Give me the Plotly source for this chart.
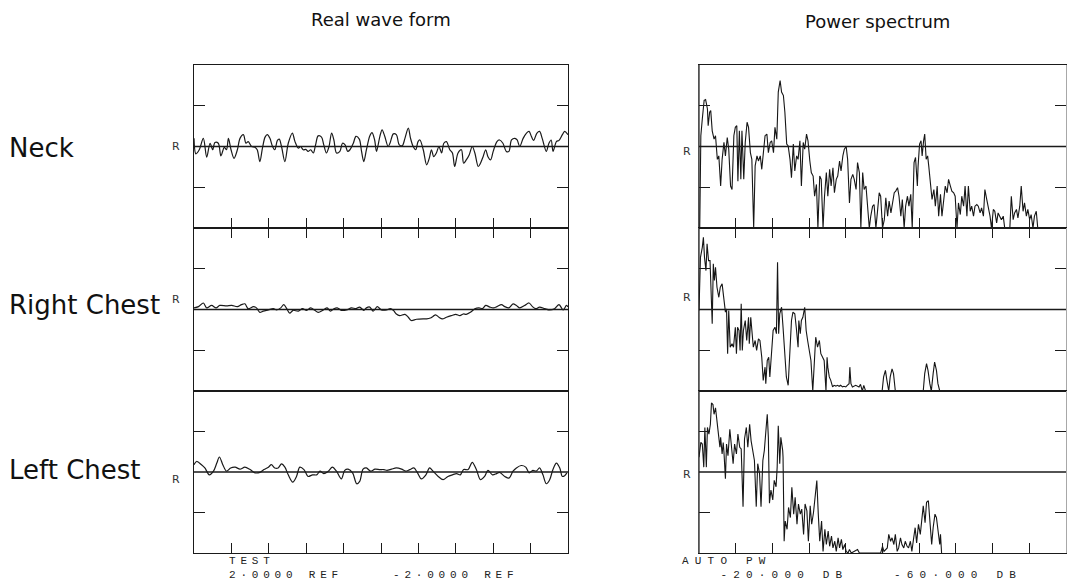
import plotly.graph_objects as go

# ---------------- data ----------------
# Real wave form: time in divisions (0-10), amplitude in units (-2..2, REF at 0)
neck_t = [0.00,0.05,0.14,0.25,0.34,0.43,0.50,0.56,0.65,0.72,0.81,0.87,0.92,0.99,1.07,1.16,1.23,1.32,1.39,1.45,
          1.54,1.63,1.69,1.76,1.83,1.90,1.96,2.03,2.10,2.16,2.23,2.28,2.34,2.43,2.52,2.63,2.70,2.79,2.85,2.92,
          2.99,3.05,3.12,3.19,3.25,3.32,3.41,3.47,3.54,3.61,3.68,3.74,3.81,3.90,3.97,4.04,4.11,4.17,4.26,4.33,
          4.42,4.48,4.54,4.61,4.70,4.76,4.83,4.88,4.97,5.03,5.10,5.19,5.24,5.33,5.41,5.49,5.57,5.64,5.73,5.79,
          5.86,5.93,5.99,6.04,6.13,6.22,6.29,6.35,6.41,6.48,6.55,6.62,6.68,6.75,6.84,6.91,6.97,7.06,7.15,7.21,
          7.28,7.36,7.44,7.51,7.60,7.66,7.73,7.80,7.86,7.93,8.00,8.10,8.17,8.26,8.35,8.42,8.49,8.58,8.64,8.71,
          8.80,8.89,8.96,9.02,9.08,9.17,9.24,9.31,9.42,9.49,9.55,9.60,9.69,9.76,9.85,9.91,10.00]
neck_v = [0.20,-0.18,-0.08,0.20,-0.26,0.08,-0.08,0.10,0.08,-0.23,-0.02,-0.08,0.20,-0.08,-0.29,-0.08,0.20,0.29,0.08,0.12,
          0.00,-0.02,-0.08,-0.37,-0.04,0.23,0.29,0.20,0.00,-0.08,0.15,0.18,0.00,-0.37,0.08,0.33,0.12,-0.04,0.00,-0.08,
          -0.07,-0.12,-0.08,-0.16,0.04,0.26,0.23,0.04,-0.16,0.00,0.33,0.16,-0.16,-0.12,0.08,0.04,-0.12,-0.08,0.08,0.25,
          0.18,-0.12,-0.37,-0.08,0.26,0.34,0.16,-0.12,0.25,0.41,0.25,0.00,0.08,0.31,0.29,0.04,0.02,0.20,0.45,0.20,
          0.00,-0.08,0.12,0.16,-0.08,-0.45,-0.29,-0.08,-0.25,-0.16,0.00,-0.16,0.08,0.12,-0.08,-0.16,-0.49,-0.16,-0.08,-0.41,
          -0.33,-0.20,0.00,-0.16,-0.49,-0.41,-0.25,-0.08,-0.25,-0.33,-0.12,0.12,0.16,0.08,-0.12,-0.12,0.16,0.20,0.16,0.00,
          0.20,0.33,0.37,0.25,0.15,0.33,0.37,0.20,-0.12,0.08,0.16,-0.12,0.12,0.15,0.29,0.37,0.29]

rchest_t = [0.00,0.12,0.25,0.34,0.47,0.59,0.69,0.87,1.01,1.16,1.27,1.36,1.45,1.59,1.67,1.76,1.85,1.99,2.12,2.21,
            2.32,2.40,2.48,2.56,2.65,2.79,2.90,3.01,3.12,3.23,3.32,3.46,3.56,3.65,3.74,3.83,3.94,4.08,4.21,4.33,
            4.43,4.54,4.61,4.70,4.79,4.90,5.01,5.15,5.25,5.33,5.41,5.50,5.64,5.73,5.81,5.95,6.13,6.22,6.32,6.39,
            6.46,6.55,6.64,6.75,6.88,7.00,7.11,7.20,7.28,7.39,7.51,7.62,7.71,7.80,7.91,8.00,8.10,8.22,8.31,8.42,
            8.53,8.62,8.71,8.84,8.96,9.05,9.14,9.24,9.38,9.51,9.64,9.76,9.87,9.96,10.00]
rchest_v = [0.04,0.07,0.16,0.04,0.10,0.04,0.10,0.09,0.10,0.07,0.12,0.14,0.02,0.07,0.04,-0.07,-0.04,-0.01,0.02,-0.01,
            0.04,0.12,0.02,-0.09,-0.02,-0.04,0.02,-0.02,0.04,-0.02,-0.07,-0.01,0.04,-0.04,0.02,0.04,-0.02,-0.01,0.04,0.02,
            0.06,-0.02,0.04,0.06,-0.04,0.07,-0.01,-0.01,0.02,-0.02,-0.11,-0.15,-0.12,-0.19,-0.27,-0.24,-0.23,-0.23,-0.21,-0.17,
            -0.13,-0.19,-0.23,-0.19,-0.15,-0.12,-0.15,-0.11,-0.12,-0.07,0.02,0.04,0.02,0.10,0.06,0.04,0.07,0.12,0.07,0.04,
            0.14,0.10,0.04,0.10,0.16,0.07,0.02,0.06,0.02,-0.01,0.02,0.12,-0.01,0.10,0.06]

lchest_t = [0.00,0.07,0.20,0.29,0.41,0.52,0.61,0.68,0.77,0.87,0.98,1.10,1.23,1.36,1.50,1.63,1.76,1.87,1.99,2.07,
            2.16,2.25,2.34,2.43,2.52,2.64,2.74,2.83,2.94,3.05,3.17,3.28,3.37,3.47,3.59,3.70,3.81,3.94,4.03,4.12,
            4.24,4.35,4.43,4.52,4.61,4.72,4.84,4.97,5.08,5.16,5.28,5.41,5.55,5.66,5.77,5.88,5.97,6.08,6.20,6.30,
            6.39,6.53,6.66,6.79,6.91,7.02,7.12,7.21,7.33,7.44,7.55,7.66,7.77,7.86,7.98,8.09,8.17,8.31,8.42,8.53,
            8.62,8.75,8.87,8.96,9.06,9.15,9.24,9.33,9.42,9.51,9.60,9.69,9.78,9.85,9.91,9.97]
lchest_v = [0.18,0.26,0.18,0.10,-0.07,0.02,0.22,0.37,0.18,0.02,0.10,0.12,0.07,0.12,0.06,-0.02,-0.01,0.06,0.12,0.18,
            0.10,0.10,0.20,0.12,-0.07,-0.25,-0.11,0.12,0.06,-0.11,-0.07,-0.07,0.02,-0.04,0.02,0.12,0.02,-0.17,0.04,0.07,
            -0.02,-0.29,-0.23,0.07,0.10,0.02,0.07,0.06,0.06,0.04,0.07,0.10,0.07,0.02,0.06,0.10,-0.01,-0.17,-0.07,0.10,
            0.02,-0.11,-0.19,-0.11,-0.07,-0.04,-0.07,0.06,0.06,0.24,0.06,-0.19,-0.11,0.04,-0.07,-0.04,-0.01,-0.11,-0.15,0.02,
            0.10,0.16,0.12,-0.02,0.04,0.02,0.10,-0.07,-0.29,-0.19,0.07,0.22,0.10,-0.11,-0.09,-0.02]

# Power spectrum: frequency in divisions (0-10), level in dB (REF -20 dB, 20 dB/div, floor -60 dB)
neck_f = [0.02,0.05,0.09,0.14,0.18,0.23,0.25,0.29,0.32,0.36,0.41,0.45,0.50,0.54,0.59,0.63,0.68,0.72,0.77,0.81,
          0.86,0.90,0.95,0.99,1.03,1.06,1.10,1.14,1.17,1.22,1.26,1.31,1.35,1.40,1.44,1.49,1.53,1.58,1.62,1.67,
          1.71,1.76,1.80,1.85,1.89,1.94,1.98,2.03,2.07,2.12,2.16,2.21,2.25,2.30,2.34,2.39,2.43,2.48,2.52,2.57,
          2.61,2.66,2.70,2.75,2.79,2.84,2.88,2.93,2.97,3.02,3.06,3.11,3.15,3.20,3.24,3.29,3.33,3.38,3.42,3.47,
          3.51,3.56,3.60,3.65,3.69,3.74,3.78,3.83,3.87,3.92,3.96,4.01,4.05,4.10,4.14,4.19,4.23,4.28,4.32,4.37,
          4.41,4.46,4.50,4.55,4.59,4.64,4.68,4.73,4.77,4.82,4.86,4.91,4.95,5.00,
          5.05,5.09,5.14,5.18,5.23,5.27,5.32,5.36,5.41,5.45,5.50,5.54,5.59,5.63,5.68,5.72,5.77,5.81,5.86,5.90,
          5.95,5.97,6.01,6.05,6.08,6.12,6.15,6.19,6.23,6.26,6.31,6.35,6.40,6.44,6.49,6.53,6.58,6.62,6.67,6.71,
          6.76,6.80,6.85,6.89,6.94,6.98,7.03,7.07,7.12,7.16,7.21,7.25,7.30,7.34,7.39,7.43,7.48,7.52,7.57,7.61,
          7.66,7.70,7.75,7.79,7.84,7.88,7.93,7.97,8.02,8.06,8.11,8.15,8.20,8.24,8.29,8.33,8.47,8.51,8.56,8.60,
          8.65,8.69,8.74,8.78,8.83,8.87,8.92,8.96,9.01,9.05,9.10,9.14,9.19,9.23]
neck_db = [-60,-14.7,-6.5,2.6,3.0,-1.6,-9.8,-3.2,-2.4,-12.3,-16.4,-14.7,-26.3,-24.6,-39.4,-26.3,-18.0,-24.6,-15.6,-21.3,
           -39.4,-41.1,-14.7,-10.6,-9.8,-37.0,-12.3,-36.1,-12.3,-36.1,-18.0,-8.1,-10.6,-23.0,-26.3,-60,-29.5,-24.6,-27.1,-24.6,
           -31.2,-21.3,-14.7,-13.9,-23.0,-18.0,-17.2,-23.0,-10.6,-16.4,6.7,12.4,6.7,5.0,-3.2,-18.8,-19.7,-26.3,-35.3,-18.8,
           -32.0,-24.6,-26.3,-17.2,-39.4,-18.0,-21.3,-13.9,-17.2,-27.1,-32.8,-34.5,-44.4,-38.6,-60,-34.5,-36.1,-60,-44.4,-32.8,
           -44.4,-31.2,-39.4,-30.4,-42.7,-36.1,-34.5,-27.1,-32.0,-24.6,-21.3,-20.0,-26.3,-47.7,-36.1,-33.7,-36.1,-41.1,-27.9,-32.8,
           -60,-32.8,-41.1,-39.4,-49.3,-60,-54.2,-49.3,-48.5,-60,-52.6,-42.7,-44.4,-60,
           -55.9,-45.2,-54.2,-46.8,-52.6,-47.7,-42.7,-41.9,-40.2,-44.4,-54.2,-46.0,-60,-49.3,-44.4,-49.3,-43.5,-60,-27.9,-25.4,
           -39.4,-29.5,-18.8,-17.2,-24.6,-17.2,-13.9,-26.3,-24.6,-29.5,-37.0,-46.0,-41.1,-49.3,-39.4,-54.2,-43.5,-54.2,-46.0,-39.4,
           -42.7,-36.1,-39.4,-41.9,-42.7,-44.4,-60,-47.7,-53.4,-44.4,-49.3,-39.4,-54.2,-39.4,-51.8,-49.3,-54.2,-49.3,-48.5,-49.3,
           -52.6,-50.1,-54.2,-41.1,-46.0,-49.3,-54.2,-60,-50.9,-51.8,-57.5,-52.6,-54.2,-55.9,-54.2,-60,-60,-44.4,-55.9,-52.6,
           -50.9,-55.1,-49.3,-39.4,-51.8,-47.7,-54.2,-50.9,-55.9,-53.4,-60,-54.2,-51.8,-60]

rchest_f = [0.00,0.04,0.09,0.12,0.15,0.19,0.22,0.26,0.30,0.33,0.36,0.39,0.42,0.45,0.49,0.54,0.58,0.63,0.67,0.72,
            0.75,0.78,0.81,0.85,0.90,0.94,0.99,1.02,1.05,1.09,1.12,1.15,1.18,1.21,1.26,1.30,1.35,1.37,1.41,1.45,
            1.48,1.53,1.57,1.62,1.66,1.71,1.75,1.80,1.82,1.86,1.90,1.93,1.98,2.02,2.07,2.11,2.14,2.17,2.20,2.25,
            2.29,2.34,2.38,2.43,2.47,2.52,2.56,2.61,2.65,2.70,2.72,2.76,2.79,2.83,2.88,2.92,2.96,3.01,3.05,3.10,
            3.14,3.18,3.23,3.28,3.32,3.37,3.41,3.46,3.49,3.51,3.55,3.59,3.64,3.68,3.73,3.77,3.82,3.86,3.91,3.95,
            4.00,4.04,4.09,4.11,4.14,4.18,4.27,4.36,4.40,4.45,4.49,4.54,4.99,5.03,5.08,5.12,5.17,5.21,5.26,5.30,
            5.35,6.11,6.15,6.20,6.24,6.29,6.33,6.38,6.42,6.47,6.51,6.56]
rchest_db = [-20.5,5.6,10.5,15.4,5.6,-0.9,12.2,4.0,4.0,-9.1,-27.0,2.4,-5.8,0.7,-9.1,-14.0,-9.1,-7.4,-14.0,-21.3,
             -19.7,-41.7,-20.5,-38.5,-36.8,-38.5,-28.7,-41.7,-28.7,-30.3,-40.1,-17.2,-40.1,-30.3,-25.4,-35.2,-23.8,-36.8,-23.8,-35.2,
             -38.5,-35.2,-40.1,-34.4,-35.2,-43.4,-54.8,-48.3,-56.4,-45.0,-43.4,-53.1,-41.7,-30.3,-28.7,-31.9,3.2,-31.9,-22.1,-18.9,
             -28.7,-45.0,-53.1,-57.2,-41.7,-25.4,-21.3,-22.1,-28.7,-38.5,-25.4,-31.9,-25.4,-23.8,-18.9,-30.3,-35.2,-41.7,-45.0,-60,
             -46.6,-33.6,-38.5,-35.2,-41.7,-43.4,-45.0,-60,-43.4,-48.3,-53.1,-54.8,-58.0,-57.2,-57.6,-57.2,-57.7,-57.2,-58.0,-57.7,
             -58.0,-57.2,-56.4,-48.3,-56.4,-58.0,-57.2,-58.0,-56.7,-60,-57.2,-60,-60,-53.1,-49.9,-54.8,-60,-53.1,-49.1,-51.5,
             -60,-60,-51.5,-46.6,-49.9,-56.4,-60,-51.5,-45.8,-49.9,-56.4,-60]

lchest_f = [0.00,0.03,0.05,0.09,0.13,0.16,0.20,0.23,0.27,0.31,0.34,0.38,0.41,0.45,0.49,0.52,0.57,0.59,0.63,0.66,
            0.68,0.72,0.75,0.79,0.84,0.88,0.93,0.97,1.02,1.06,1.11,1.15,1.20,1.24,1.29,1.33,1.38,1.42,1.47,1.51,
            1.56,1.60,1.65,1.69,1.74,1.78,1.83,1.86,1.89,1.92,1.96,2.01,2.05,2.10,2.13,2.16,2.20,2.23,2.28,2.29,
            2.32,2.35,2.40,2.44,2.49,2.53,2.58,2.62,2.67,2.71,2.76,2.80,2.85,2.89,2.94,2.98,3.03,3.07,3.12,3.16,
            3.21,3.25,3.29,3.34,3.38,3.43,3.47,3.52,3.56,3.61,3.65,3.70,3.74,3.79,3.83,3.88,3.92,3.97,4.01,4.06,
            4.10,4.15,4.32,4.37,4.95,5.00,5.04,5.13,5.17,5.22,5.26,5.31,5.35,5.40,5.44,5.49,5.53,5.58,5.62,5.67,
            5.71,5.76,5.80,5.85,5.89,5.93,5.98,6.03,6.07,6.11,6.16,6.20,6.25,6.29,6.34,6.38,6.43,6.47,6.52,6.56,
            6.58,6.61]
lchest_db = [-12.7,-7.8,-5.4,-6.2,-17.6,2.0,-17.6,2.0,-1.3,3.6,14.1,13.3,8.5,11.7,3.6,0.3,-7.8,-2.9,-11.1,-5.4,
             -10.2,-23.3,-6.2,-11.9,1.1,-7.8,-15.9,-6.2,-11.1,-1.3,-7.8,-8.6,-37.1,-3.7,2.0,-7.8,3.6,-4.6,-10.2,-14.3,
             -37.1,-15.9,-20.8,-37.1,-14.3,-9.4,2.0,8.5,-2.9,-35.4,-28.9,-33.8,-24.1,-27.3,-17.6,2.8,-15.9,-2.9,-9.4,-12.7,
             -54.2,-44.2,-48.3,-37.5,-42.5,-27.5,-40.8,-32.5,-45.8,-35.8,-40.8,-38.3,-50.8,-35.8,-39.2,-54.2,-36.7,-45.8,-40.0,-34.2,
             -24.2,-40.8,-54.2,-44.2,-59.2,-48.3,-55.8,-49.2,-56.7,-51.7,-57.5,-54.2,-59.2,-52.5,-57.5,-53.3,-58.3,-55.8,-59.2,-60,
             -58.3,-60,-58.3,-60,-60,-56.7,-59.2,-57.5,-50.8,-54.2,-52.5,-55.8,-50.8,-59.2,-57.5,-52.5,-55.8,-57.5,-54.2,-56.7,
             -57.5,-54.2,-59.2,-52.5,-47.5,-55.0,-45.8,-50.8,-44.2,-36.7,-45.0,-35.0,-34.2,-45.8,-55.8,-47.5,-40.8,-42.5,-49.2,-55.8,
             -50.8,-60]

row_labels = ["Neck", "Right Chest", "Left Chest"]
col_titles = ["Real wave form", "Power spectrum"]
wave_ref, wave_range, wave_ticks = 0.0, [-2, 2], [-1, 1]
spec_ref, spec_range, spec_ticks = -20.0, [-60, 20], [-40, 0]
x_range, x_ticks = [0, 10], [1, 2, 3, 4, 5, 6, 7, 8, 9]
left_footer = ["TEST", "2·0000 REF", "-2·0000 REF"]
right_footer = ["AUTO PW", "-20·000 DB", "-60·000 DB"]

# ---------------- figure ----------------
W, H = 1073, 585
INK = "#1a1a1a"
FAINT = "#a8a8a8"

def px_x(p):
    return p / W

def px_y(p):
    return 1 - p / H

col_dom = [[px_x(194), px_x(568)], [px_x(699), px_x(1066)]]
row_dom = [[px_y(228), px_y(65)], [px_y(391), px_y(228)], [px_y(553), px_y(391)]]

waves = [(neck_t, neck_v), (rchest_t, rchest_v), (lchest_t, lchest_v)]
specs = [(neck_f, neck_db), (rchest_f, rchest_db), (lchest_f, lchest_db)]

fig = go.Figure()
layout = dict(
    width=W, height=H, margin=dict(l=0, r=0, t=0, b=0, autoexpand=False),
    paper_bgcolor="white", plot_bgcolor="white", showlegend=False,
)
shapes, annotations = [], []

r_shift = [[0, 10, -7], [-5, 12, -2]]
r_xshift = [-12, -6]

n = 0
for c in range(2):
    for r in range(3):
        n += 1
        xa = "x" if n == 1 else f"x{n}"
        ya = "y" if n == 1 else f"y{n}"
        xkey = "xaxis" if n == 1 else f"xaxis{n}"
        ykey = "yaxis" if n == 1 else f"yaxis{n}"
        if c == 0:
            xs, ys = waves[r]
            ref, yr, yt = wave_ref, wave_range, wave_ticks
            fig.add_trace(go.Scatter(x=xs, y=ys, xaxis=xa, yaxis=ya, mode="lines",
                                     line=dict(color=INK, width=1.2, shape="spline", smoothing=0.9),
                                     hoverinfo="skip"))
            ylinecol = INK
        else:
            xs, ys = specs[r]
            ref, yr, yt = spec_ref, spec_range, spec_ticks
            fig.add_trace(go.Scatter(x=xs, y=ys, xaxis=xa, yaxis=ya, mode="lines",
                                     line=dict(color="#161616", width=1.1),
                                     hoverinfo="skip"))
            ylinecol = FAINT
            # solid left border of the spectrum frame (right border stays faint)
            shapes.append(dict(type="line", xref=f"{xa} domain", yref=f"{ya} domain", x0=0, x1=0, y0=0, y1=1,
                               line=dict(color=INK, width=1.2)))
        layout[xkey] = dict(
            domain=col_dom[c], range=x_range, anchor=ya,
            side="top" if r == 1 else "bottom",
            tickvals=x_ticks, ticks="inside", ticklen=10, tickwidth=1, tickcolor=INK,
            showticklabels=False, showgrid=False, zeroline=False,
            showline=True, mirror=True, linecolor=INK, linewidth=1.2,
        )
        layout[ykey] = dict(
            domain=row_dom[r], range=yr, anchor=xa,
            tickvals=yt, ticks="inside", ticklen=11, tickwidth=1, tickcolor=INK,
            showticklabels=False, showgrid=False, zeroline=False,
            showline=True, mirror="ticks", linecolor=ylinecol, linewidth=1.2,
        )
        shapes.append(dict(type="line", xref=f"{xa} domain", yref=ya, x0=0, x1=1, y0=ref, y1=ref,
                           line=dict(color=INK, width=1.4)))
        annotations.append(dict(text="R", xref=f"{xa} domain", yref=ya, x=0, y=ref,
                                xanchor="right", yanchor="middle", xshift=r_xshift[c], yshift=r_shift[c][r],
                                showarrow=False, font=dict(family="DejaVu Sans", size=11, color="#333")))

# column titles
annotations.append(dict(text=col_titles[0], xref="paper", yref="paper", x=px_x(381), y=px_y(20),
                        xanchor="center", yanchor="middle", showarrow=False,
                        font=dict(family="DejaVu Sans", size=18, color="#111")))
annotations.append(dict(text=col_titles[1], xref="paper", yref="paper", x=px_x(877), y=px_y(22),
                        xanchor="center", yanchor="middle", showarrow=False,
                        font=dict(family="DejaVu Sans", size=18, color="#111")))

# row labels
for lbl, yy in zip(row_labels, [148, 305, 470]):
    annotations.append(dict(text=lbl, xref="paper", yref="paper", x=px_x(7), y=px_y(yy),
                            xanchor="left", yanchor="middle", showarrow=False,
                            font=dict(family="DejaVu Sans", size=26, color="#111")))

# plotter footers
mono = dict(family="Liberation Mono", size=11, color="#222")
def foot(txt, x, y_bottom, spacing):
    annotations.append(dict(text=f'<span style="letter-spacing:{spacing}px">{txt}</span>',
                            xref="paper", yref="paper", x=px_x(x), y=px_y(y_bottom),
                            xanchor="left", yanchor="bottom", align="left", showarrow=False, font=mono,
                            borderpad=0))

foot(left_footer[0] + "<br>" + left_footer[1], 228, 582, 4.8)
foot(left_footer[2], 392, 582, 4.8)
foot(right_footer[0] + "<br>&nbsp;&nbsp;&nbsp;" + right_footer[1], 681, 582, 6.2)
foot(right_footer[2], 893, 582, 6.2)

layout["shapes"] = shapes
layout["annotations"] = annotations
fig.update_layout(**layout)
fig.write_html("out.html", config={"displayModeBar": False},
               post_script="document.body.style.margin='0';document.body.style.overflow='hidden';")
